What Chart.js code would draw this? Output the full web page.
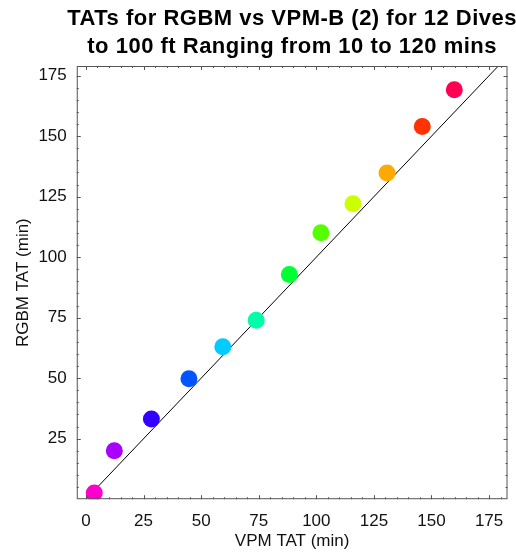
<!DOCTYPE html>
<html>
<head>
<meta charset="utf-8">
<script src="https://cdn.jsdelivr.net/npm/chart.js@4"></script>
<style>
  html, body { margin: 0; padding: 0; background: #fff; }
  #wrap { width: 516px; height: 552px; }
</style>
</head>
<body>
<div id="wrap"><canvas id="tatChart" width="516" height="552"></canvas></div>
<script>
// VPM TAT (x) vs RGBM TAT (y), minutes
const vpmTat  = [3.6, 12.3, 28.4, 44.7, 59.4, 73.9, 88.3, 102.0, 115.9, 130.7, 146.0, 159.9];
const rgbmTat = [2.6, 20.0, 33.1, 49.8, 63.0, 73.9, 92.8, 110.1, 122.1, 134.8, 154.0, 169.2];
const dotColors = ['#ff00cc', '#aa00ff', '#3300ff', '#0055ff', '#00ccff', '#00ffaa',
                   '#00ff33', '#55ff00', '#ccff00', '#ffaa00', '#ff3300', '#ff0055'];
const xTicks = [0, 25, 50, 75, 100, 125, 150, 175];
const yTicks = [25, 50, 75, 100, 125, 150, 175];
const refLine = [0, 179]; // y = x
const titleLines = ['TATs for RGBM vs VPM-B (2) for 12 Dives', 'to 100 ft Ranging from 10 to 120 mins'];

// title centred over the plot frame, a bit wider like the original
const headline = {
  id: 'headline',
  afterDraw(chart) {
    const { ctx, chartArea: a } = chart;
    const cx = (a.left + a.right) / 2;
    ctx.save();
    ctx.fillStyle = '#000';
    ctx.font = 'bold 22px Arial, "Liberation Sans"';
    ctx.letterSpacing = '0.5px';
    ctx.textAlign = 'center';
    ctx.textBaseline = 'middle';
    titleLines.forEach((t, i) => ctx.fillText(t, cx, 19 + i * 28));
    ctx.restore();
  }
};

// frame with inward ticks, mathematica style
const frameTicks = {
  id: 'frameTicks',
  afterDatasetsDraw(chart) {
    const { ctx, chartArea: a, scales } = chart;
    ctx.save();
    ctx.strokeStyle = '#555';
    ctx.lineWidth = 1;
    ctx.strokeRect(a.left + 0.5, a.top + 0.5, a.right - a.left - 1, a.bottom - a.top - 1);
    ctx.beginPath();
    for (let v = 0; v <= 180; v += 5) {
      const len = v % 25 === 0 ? 4 : 2;
      const px = Math.round(scales.x.getPixelForValue(v)) + 0.5;
      if (px > a.left && px < a.right) {
        ctx.moveTo(px, a.bottom); ctx.lineTo(px, a.bottom - len);
        ctx.moveTo(px, a.top); ctx.lineTo(px, a.top + len);
      }
      const py = Math.round(scales.y.getPixelForValue(v)) + 0.5;
      if (py > a.top && py < a.bottom) {
        ctx.moveTo(a.left, py); ctx.lineTo(a.left + len, py);
        ctx.moveTo(a.right, py); ctx.lineTo(a.right - len, py);
      }
    }
    ctx.stroke();
    ctx.restore();
  }
};

const ctx = document.getElementById('tatChart').getContext('2d');
new Chart(ctx, {
  type: 'scatter',
  data: {
    datasets: [
      {
        type: 'line',
        data: refLine.map(v => ({ x: v, y: v })),
        borderColor: '#000',
        borderWidth: 1,
        pointRadius: 0,
        order: 2
      },
      {
        data: vpmTat.map((v, i) => ({ x: v, y: rgbmTat[i] })),
        backgroundColor: dotColors,
        borderWidth: 0,
        pointRadius: 8.5,
        order: 1
      }
    ]
  },
  options: {
    responsive: false,
    animation: false,
    layout: { padding: { left: 13, right: 8, top: 66, bottom: 0 } },
    plugins: {
      legend: { display: false },
      tooltip: { enabled: false },
      title: { display: false }
    },
    scales: {
      x: {
        type: 'linear',
        min: -4,
        max: 183,
        afterBuildTicks: s => { s.ticks = xTicks.map(v => ({ value: v })); },
        grid: { display: false, drawTicks: false },
        border: { display: false },
        ticks: { color: '#111', padding: 12, font: { family: 'Arial, "Liberation Sans"', size: 17 } },
        title: {
          display: true,
          text: 'VPM TAT (min)',
          color: '#111',
          padding: { top: -12, bottom: 0 },
          font: { family: 'Arial, "Liberation Sans"', size: 17 }
        }
      },
      y: {
        type: 'linear',
        min: 0,
        max: 179,
        afterBuildTicks: s => { s.ticks = yTicks.map(v => ({ value: v })); },
        grid: { display: false, drawTicks: false },
        border: { display: false },
        ticks: { color: '#111', padding: 10, font: { family: 'Arial, "Liberation Sans"', size: 17 } },
        title: {
          display: true,
          text: 'RGBM TAT (min)',
          color: '#111',
          padding: { top: 0, bottom: -5 },
          font: { family: 'Arial, "Liberation Sans"', size: 17 }
        }
      }
    }
  },
  plugins: [frameTicks, headline]
});
</script>
</body>
</html>
